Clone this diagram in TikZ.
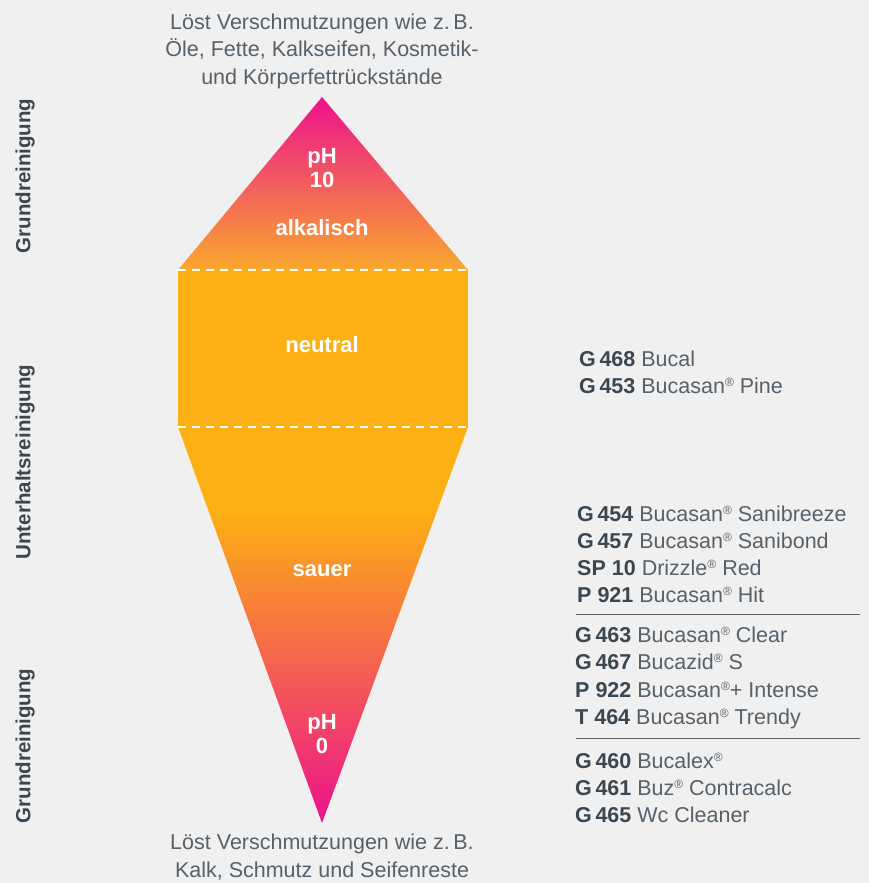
\documentclass[tikz,border=0pt]{standalone}
\usepackage{fontspec}
\setmainfont{Liberation Sans}
\definecolor{bg}{HTML}{F0F0F0}
\definecolor{pinkc}{HTML}{EC128D}
\definecolor{orangec}{HTML}{FDB013}
\definecolor{midtop}{HTML}{F04F80}
\definecolor{midbot}{HTML}{F37A66}
\definecolor{basetop}{HTML}{F9A82E}
\definecolor{txtlight}{HTML}{56616A}
\definecolor{txtdark}{HTML}{3A4750}
\tikzset{
  desc/.style={font=\fontsize{21.5}{27.5}\selectfont, text=txtlight, align=center, inner sep=0pt},
  side/.style={font=\fontsize{20.5}{22}\selectfont\bfseries, text=txtdark, rotate=90, inner sep=0pt},
  inlab/.style={font=\fontsize{22}{23.5}\selectfont\bfseries, text=white, align=center, inner sep=0pt},
  prod/.style={font=\fontsize{21.5}{24}\selectfont, text=txtlight, anchor=base west, inner sep=0pt},
  sep/.style={draw=txtlight, line width=1pt},
  dashline/.style={draw=white, line width=1.4pt, dash pattern=on 8pt off 6pt}
}
\newcommand{\code}[1]{\textcolor{txtdark}{\bfseries #1}}
\newcommand{\reg}{\raisebox{0.55ex}{\fontsize{12}{12}\selectfont ®}}
\begin{document}
\begin{tikzpicture}[x=1pt,y=-1pt]
\fill[bg] (0,0) rectangle (869,883);
\useasboundingbox (0,0) rectangle (869,883);
% coordinates of the shape
\coordinate (apexT) at (322,97);
\coordinate (tl) at (178,270);
\coordinate (tr) at (468,270);
\coordinate (bl) at (178,427);
\coordinate (br) at (468,427);
\coordinate (apexB) at (322,823);
% top triangle
\begin{scope}
\clip (apexT) -- (tr) -- (tl) -- cycle;
\shade[top color=pinkc, middle color=midtop, bottom color=basetop] (170,97) rectangle (476,270.5);
\end{scope}
% rectangle
\fill[orangec] (tl) rectangle (br);
% bottom triangle
\begin{scope}
\clip (bl) -- (br) -- (apexB) -- cycle;
\fill[orangec] (170,426.5) rectangle (476,510);
\shade[top color=orangec, middle color=midbot, bottom color=pinkc] (170,509.5) rectangle (476,823);
\end{scope}
\draw[dashline] (tl) -- (tr);
\draw[dashline] (bl) -- (br);
% descriptions
\node[desc] (topdesc) at (322,51) {Löst Verschmutzungen wie z.\,B.\\Öle, Fette, Kalkseifen, Kosmetik-\\und Körperfettrückstände};
\node[desc] (botdesc) at (322,857) {Löst Verschmutzungen wie z.\,B.\\Kalk, Schmutz und Seifenreste};
% side labels
\node[side] (s1) at (25,176) {Grundreinigung};
\node[side] (s2) at (25,462) {Unterhaltsreinigung};
\node[side] (s3) at (25,746) {Grundreinigung};
% inner labels
\node[inlab] (ph10) at (322,168) {pH\\10};
\node[inlab] (alk) at (322,228) {alkalisch};
\node[inlab] (neu) at (322,345) {neutral};
\node[inlab] (sau) at (322,571) {sauer};
\node[inlab] (ph0) at (322,734) {pH\\0};
% products
\node[prod] (p1) at (579,366) {\code{G\,468} Bucal};
\node[prod] (p2) at (579,393) {\code{G\,453} Bucasan\reg{} Pine};
\node[prod] (p3) at (577,521) {\code{G\,454} Bucasan\reg{} Sanibreeze};
\node[prod] (p4) at (577,548) {\code{G\,457} Bucasan\reg{} Sanibond};
\node[prod] (p5) at (577,575) {\code{SP 10} Drizzle\reg{} Red};
\node[prod] (p6) at (577,602) {\code{P 921} Bucasan\reg{} Hit};
\draw[sep] (576,614) -- (860,614);
\node[prod] (p7) at (575,642) {\code{G\,463} Bucasan\reg{} Clear};
\node[prod] (p8) at (575,669) {\code{G\,467} Bucazid\reg{} S};
\node[prod] (p9) at (575,697) {\code{P 922} Bucasan\reg+ Intense};
\node[prod] (p10) at (575,724) {\code{T 464} Bucasan\reg{} Trendy};
\draw[sep] (576,738) -- (860,738);
\node[prod] (p11) at (575,768) {\code{G\,460} Bucalex\reg};
\node[prod] (p12) at (575,795) {\code{G\,461} Buz\reg{} Contracalc};
\node[prod] (p13) at (575,822) {\code{G\,465} Wc Cleaner};
\end{tikzpicture}
\end{document}
